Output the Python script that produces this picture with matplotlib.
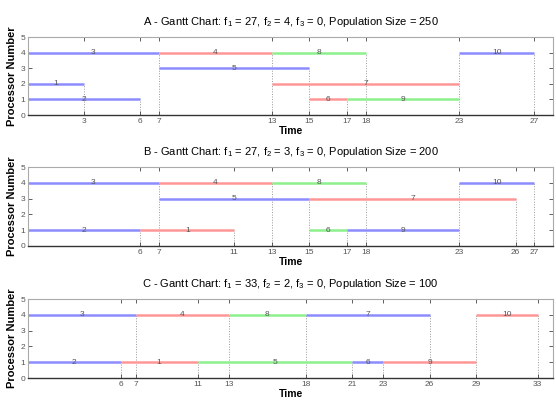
import matplotlib.pyplot as plt

plt.rcParams['font.family'] = ['Liberation Sans', 'DejaVu Sans']

# panel A, f1=27 f2=4 f3=0, pop 250
a_tasks = [3, 4, 8, 10, 1, 5, 7, 2, 6, 9]
a_proc = [4, 4, 4, 4, 2, 3, 2, 1, 1, 1]
a_start = [0, 7, 13, 23, 0, 7, 13, 0, 15, 17]
a_end = [7, 13, 18, 27, 3, 15, 23, 6, 17, 23]
a_col = ['b', 'r', 'g', 'b', 'b', 'b', 'r', 'b', 'r', 'g']

# panel B, f1=27 f2=3 f3=0, pop 200
b_tasks = [3, 4, 8, 10, 5, 7, 2, 1, 6, 9]
b_proc = [4, 4, 4, 4, 3, 3, 1, 1, 1, 1]
b_start = [0, 7, 13, 23, 7, 15, 0, 6, 15, 17]
b_end = [7, 13, 18, 27, 15, 26, 6, 11, 17, 23]
b_col = ['b', 'r', 'g', 'b', 'b', 'r', 'b', 'r', 'g', 'b']

# panel C, f1=33 f2=2 f3=0, pop 100
c_tasks = [3, 4, 8, 7, 10, 2, 1, 5, 6, 9]
c_proc = [4, 4, 4, 4, 4, 1, 1, 1, 1, 1]
c_start = [0, 7, 13, 18, 29, 0, 6, 11, 21, 23]
c_end = [7, 13, 18, 26, 33, 6, 11, 21, 23, 29]
c_col = ['b', 'r', 'g', 'b', 'r', 'b', 'r', 'g', 'b', 'r']

titles = [
    r'A - Gantt Chart: f$\mathregular{_1}$ = 27, f$\mathregular{_2}$ = 4, f$\mathregular{_3}$ = 0, Population Size = 250',
    r'B - Gantt Chart: f$\mathregular{_1}$ = 27, f$\mathregular{_2}$ = 3, f$\mathregular{_3}$ = 0, Population Size = 200',
    r'C - Gantt Chart: f$\mathregular{_1}$ = 33, f$\mathregular{_2}$ = 2, f$\mathregular{_3}$ = 0, Population Size = 100',
]
xmax = [28, 28, 34]

colmap = {'b': '#8c8cff', 'r': '#ff9696', 'g': '#8cf08c'}
panels = [
    (a_tasks, a_proc, a_start, a_end, a_col),
    (b_tasks, b_proc, b_start, b_end, b_col),
    (c_tasks, c_proc, c_start, c_end, c_col),
]
boxes = [[0.050, 0.7146, 0.945, 0.1935],
         [0.050, 0.3896, 0.945, 0.196],
         [0.050, 0.062, 0.945, 0.196]]

fig = plt.figure(figsize=(5.56, 4.03), dpi=100)

for i, (tasks, proc, start, end, col) in enumerate(panels):
    ax = fig.add_axes(boxes[i])
    # dotted guide lines at every start/end
    heights = {}
    for p, s, e in zip(proc, start, end):
        for x in (s, e):
            if x > 0:
                heights[x] = max(heights.get(x, 0), p)
    for x, h in heights.items():
        ax.plot([x, x], [0, h], ls=':', color='#999999', lw=0.7, zorder=1)
    for t, p, s, e, c in zip(tasks, proc, start, end, col):
        ax.plot([s, e], [p, p], color=colmap[c], lw=1.8, solid_capstyle='butt', zorder=2)
        ax.text((s + e) / 2, p, str(t), ha='center', va='center', fontsize=6,
                color='#555555', zorder=3)
    ax.set_xlim(0, xmax[i])
    ax.set_ylim(0, 5)
    ax.set_xticks(sorted(heights))
    ax.set_yticks(range(6))
    ax.tick_params(direction='in', top=True, right=True, labelsize=6,
                   labelcolor='#555555', length=3, width=0.6, color='#444444', pad=2)
    for side in ('top', 'left', 'right'):
        ax.spines[side].set_color('#aaaaaa')
    ax.spines['bottom'].set_color('#333333')
    ax.spines['bottom'].set_linewidth(1.0)
    ax.set_title(titles[i], fontsize=8, pad=9)
    ax.set_xlabel('Time', fontsize=7.5, fontweight='bold', labelpad=1)
    ax.set_ylabel('Processor Number', fontsize=8, fontweight='bold', labelpad=2)

fig.savefig('out.png', dpi=100)
